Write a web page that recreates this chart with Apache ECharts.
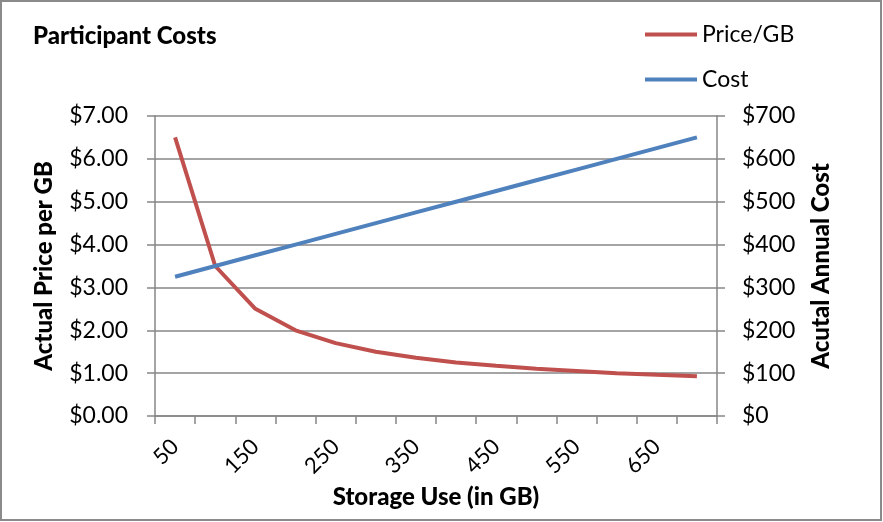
<!DOCTYPE html>
<html><head><meta charset="utf-8">
<script src="https://cdn.jsdelivr.net/npm/echarts@6/dist/echarts.min.js"></script>
<style>html,body{margin:0;padding:0;background:#fff}#c{width:883px;height:522px}</style>
</head><body><div id="c"></div>
<script>
const categories = ['50','100','150','200','250','300','350','400','450','500','550','600','650','700'];
const pricePerGB = [6.50,3.50,2.50,2.00,1.70,1.50,1.36,1.25,1.17,1.10,1.05,1.00,0.96,0.93];
const annualCost = [325,350,375,400,425,450,475,500,525,550,575,600,625,650];
const leftTicks = [0,1,2,3,4,5,6,7];
const rightTicks = [0,100,200,300,400,500,600,700];

const FONT = 'Lato';
const gray = '#868686';
const bold = {fontFamily:FONT,fontWeight:900,fontSize:24,color:'#000'};
const chart = echarts.init(document.getElementById('c'), null, {renderer:'canvas'});
chart.setOption({
  animation:false,
  backgroundColor:'#fff',
  textStyle:{fontFamily:FONT},
  title:{text:'Participant Costs',left:28,top:19,textStyle:bold},
  legend:{orient:'vertical',left:640,top:18,itemWidth:52,itemHeight:4,itemGap:22,icon:'rect',
    textStyle:{fontFamily:FONT,fontSize:23,color:'#000'},
    data:['Price/GB','Cost']},
  grid:{left:155,right:166,top:116,bottom:106,containLabel:false},
  graphic:[{type:'rect',shape:{x:1,y:1,width:880,height:519},style:{fill:'none',stroke:'#8a8a8a',lineWidth:2},silent:true,z:-1}],
  xAxis:{type:'category',data:categories,boundaryGap:true,
    name:'Storage Use (in GB)',nameLocation:'middle',nameGap:69,
    nameTextStyle:bold,
    axisLine:{lineStyle:{color:gray,width:1.5}},
    axisTick:{show:true,interval:0,length:8,lineStyle:{color:gray,width:1.5}},
    axisLabel:{interval:1,rotate:45,fontFamily:FONT,fontSize:22,color:'#000',margin:27},
    splitLine:{show:false}},
  yAxis:[
    {type:'value',min:0,max:7,interval:1,position:'left',
     name:'Actual Price per GB',nameLocation:'middle',nameGap:99,
     nameTextStyle:bold,
     axisLine:{show:true,lineStyle:{color:gray,width:1.5}},
     axisTick:{show:true,length:8,lineStyle:{color:gray,width:1.5}},
     axisLabel:{fontFamily:FONT,fontSize:23,color:'#000',margin:27,
       formatter:v=>'$'+v.toFixed(2)},
     splitLine:{show:true,lineStyle:{color:gray,width:1.5}}},
    {type:'value',min:0,max:700,interval:100,position:'right',
     name:'Acutal Annual Cost',nameLocation:'middle',nameGap:92,
     nameTextStyle:bold,
     axisLine:{show:true,lineStyle:{color:gray,width:1.5}},
     axisTick:{show:true,length:8,lineStyle:{color:gray,width:1.5}},
     axisLabel:{fontFamily:FONT,fontSize:23,color:'#000',margin:25,
       formatter:v=>'$'+v},
     splitLine:{show:false}}
  ],
  series:[
    {name:'Price/GB',type:'line',yAxisIndex:0,data:pricePerGB,showSymbol:false,symbol:'none',
     lineStyle:{color:'#C0504D',width:4},itemStyle:{color:'#C0504D'}},
    {name:'Cost',type:'line',yAxisIndex:1,data:annualCost,showSymbol:false,symbol:'none',
     lineStyle:{color:'#4F81BD',width:4},itemStyle:{color:'#4F81BD'}}
  ]
});
</script></body></html>
